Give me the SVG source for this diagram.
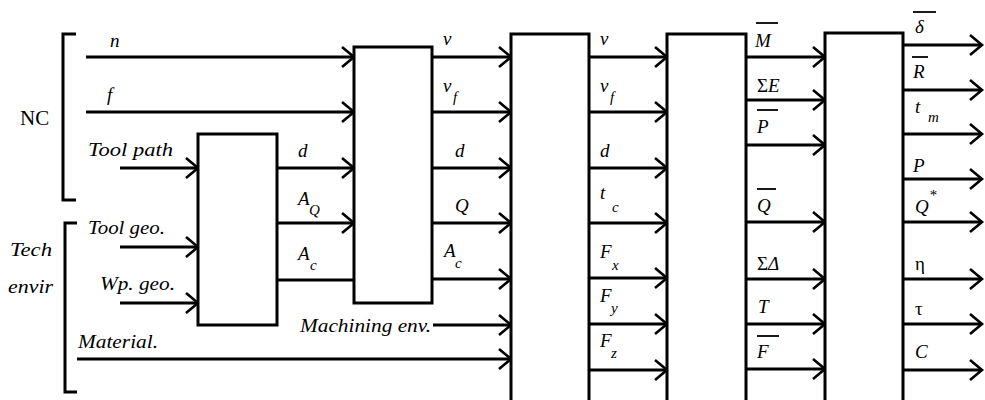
<svg xmlns="http://www.w3.org/2000/svg" width="985" height="400" viewBox="0 0 985 400">
<style>
.box{fill:#fff;stroke:#000;stroke-width:3}
.ln{fill:none;stroke:#000;stroke-width:3}
.ar{fill:none;stroke:#000;stroke-width:3;marker-end:url(#arr)}
.bar{stroke:#000;stroke-width:1.8}
text{font-family:'Liberation Serif','Times New Roman','DejaVu Serif',serif;fill:#000}
.t{font-style:italic;font-size:19px}
.w{font-style:italic;font-size:18px}
.s{font-size:15px}
.u{font-style:normal}
.nc{font-size:21px}
</style>
<defs>
<marker id="arr" markerUnits="userSpaceOnUse" markerWidth="18" markerHeight="26" refX="14" refY="12" orient="auto">
<path d="M2,2 L14,12 L2,22" fill="none" stroke="#000" stroke-width="2.6"/>
</marker>
</defs>

<g id="brackets">
<path class="ln" d="M76,34 H63 V200 H76"/>
<path class="ln" d="M77,223 H65 V392 H77"/>
<text class="nc" x="20" y="125">NC</text>
<text class="w" x="10" y="256" textLength="42" lengthAdjust="spacingAndGlyphs">Tech</text>
<text class="w" x="8" y="293" textLength="45" lengthAdjust="spacingAndGlyphs">envir</text>
</g>

<g id="connectors">
<path class="ar" d="M86,57 H354"/>
<path class="ar" d="M86,112 H354"/>
<path class="ar" d="M120,168 H198"/>
<path class="ar" d="M120,247 H198"/>
<path class="ar" d="M120,303 H198"/>
<path class="ar" d="M77,359 H511"/>
<path class="ar" d="M277,168 H354"/>
<path class="ar" d="M277,223 H354"/>
<path class="ln" d="M277,280 H354"/>
<path class="ar" d="M432,57 H511"/>
<path class="ar" d="M432,112 H511"/>
<path class="ar" d="M432,168 H511"/>
<path class="ar" d="M432,223 H511"/>
<path class="ar" d="M432,279 H511"/>
<path class="ar" d="M433,325 H511"/>
<path class="ar" d="M589,57 H667"/>
<path class="ar" d="M589,112 H667"/>
<path class="ar" d="M589,168 H667"/>
<path class="ar" d="M589,223 H667"/>
<path class="ar" d="M589,278 H667"/>
<path class="ar" d="M589,324 H667"/>
<path class="ar" d="M589,370 H667"/>
<path class="ar" d="M746,57 H825"/>
<path class="ar" d="M746,100 H825"/>
<path class="ar" d="M746,145 H825"/>
<path class="ar" d="M746,222 H825"/>
<path class="ar" d="M746,279 H825"/>
<path class="ar" d="M746,324 H825"/>
<path class="ar" d="M746,369 H825"/>
<path class="ar" d="M903,45 H982"/>
<path class="ar" d="M903,90 H982"/>
<path class="ar" d="M903,134 H982"/>
<path class="ar" d="M903,179 H982"/>
<path class="ar" d="M903,222 H982"/>
<path class="ar" d="M903,279 H982"/>
<path class="ar" d="M903,324 H982"/>
<path class="ar" d="M903,370 H982"/>
</g>

<g id="inputs">
<text class="t" x="110" y="47">n</text>
<text class="t" x="107" y="101">f</text>
<text class="w" x="88" y="156" textLength="85" lengthAdjust="spacingAndGlyphs">Tool path</text>
<text class="w" x="88" y="234" textLength="77" lengthAdjust="spacingAndGlyphs">Tool geo.</text>
<text class="w" x="100" y="290" textLength="75" lengthAdjust="spacingAndGlyphs">Wp. geo.</text>
<text class="w" x="78" y="348" textLength="80" lengthAdjust="spacingAndGlyphs">Material.</text>
<text class="w" x="300" y="332" textLength="131" lengthAdjust="spacingAndGlyphs">Machining env.</text>
</g>

<g id="block1">
<rect class="box" x="198" y="134" width="79" height="191"/>
<text class="t" x="298" y="157">d</text>
<text class="t" x="298" y="205">A<tspan class="s" x="309" y="215">Q</tspan></text>
<text class="t" x="298" y="260">A<tspan class="s" x="310" y="270">c</tspan></text>
</g>

<g id="block2">
<rect class="box" x="354" y="47" width="78" height="256"/>
<text class="t" x="443" y="45">v</text>
<text class="t" x="443" y="92">v<tspan class="s" x="453" y="102">f</tspan></text>
<text class="t" x="455" y="157">d</text>
<text class="t" x="455" y="212">Q</text>
<text class="t" x="444" y="257">A<tspan class="s" x="455" y="268">c</tspan></text>
</g>

<g id="block3">
<rect class="box" x="511" y="34" width="78" height="380"/>
<text class="t" x="600" y="45">v</text>
<text class="t" x="600" y="92">v<tspan class="s" x="610" y="102">f</tspan></text>
<text class="t" x="600" y="157">d</text>
<text class="t" x="600" y="199">t<tspan class="s" x="612" y="212">c</tspan></text>
<text class="t" x="600" y="258">F<tspan class="s" x="612" y="270">x</tspan></text>
<text class="t" x="600" y="302">F<tspan class="s" x="611" y="313">y</tspan></text>
<text class="t" x="600" y="347">F<tspan class="s" x="611" y="358">z</tspan></text>
</g>

<g id="block4">
<rect class="box" x="667" y="34" width="79" height="380"/>
<line class="bar" x1="756" y1="23" x2="778" y2="23"/>
<text class="t" x="755" y="47">M</text>
<text class="t" x="757" y="92"><tspan class="u">Σ</tspan>E</text>
<line class="bar" x1="757" y1="110" x2="778" y2="110"/>
<text class="t" x="757" y="133">P</text>
<line class="bar" x1="757" y1="189" x2="776" y2="189"/>
<text class="t" x="757" y="212">Q</text>
<text class="t" x="757" y="270"><tspan class="u">Σ</tspan>Δ</text>
<text class="t" x="758" y="313">T</text>
<line class="bar" x1="757" y1="336" x2="779" y2="336"/>
<text class="t" x="757" y="358">F</text>
</g>

<g id="block5">
<rect class="box" x="825" y="33" width="78" height="380"/>
<line class="bar" x1="913" y1="12" x2="936" y2="12"/>
<text class="t" x="915" y="33">δ</text>
<line class="bar" x1="912" y1="57" x2="928" y2="57"/>
<text class="t" x="913" y="78">R</text>
<text class="t" x="915" y="113">t<tspan class="s" x="928" y="122">m</tspan></text>
<text class="t" x="913" y="172">P</text>
<text class="t" x="915" y="213">Q<tspan class="s" x="929" y="200">*</tspan></text>
<text class="t u" x="915" y="270">η</text>
<text class="t u" x="915" y="315">τ</text>
<text class="t" x="915" y="358">C</text>
</g>
</svg>
